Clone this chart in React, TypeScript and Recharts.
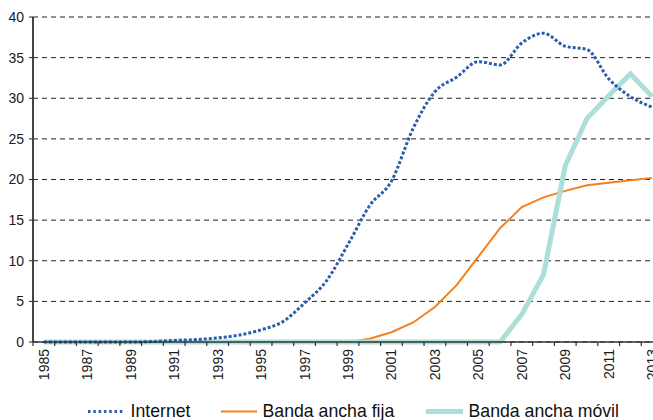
import { LineChart, Line, XAxis, YAxis, CartesianGrid, Legend } from 'recharts';

const years = [
  '1985', '1986', '1987', '1988', '1989', '1990', '1991', '1992', '1993', '1994',
  '1995', '1996', '1997', '1998', '1999', '2000', '2001', '2002', '2003', '2004',
  '2005', '2006', '2007', '2008', '2009', '2010', '2011', '2012', '2013',
];

const internet = [
  0, 0, 0, 0, 0, 0.05, 0.2, 0.3, 0.5, 0.85,
  1.5, 2.5, 4.8, 7.5, 12.0, 16.8, 19.8, 26.3, 30.8, 32.6,
  34.5, 34.1, 36.8, 38.0, 36.4, 36.0, 32.4, 30.2, 28.9,
];

const fija = [
  0, 0, 0, 0, 0, 0, 0, 0, 0, 0,
  0, 0, 0, 0, 0, 0.4, 1.2, 2.4, 4.3, 7.0,
  10.5, 14.0, 16.6, 17.8, 18.6, 19.3, 19.6, 19.9, 20.2,
];

const movil = [
  0, 0, 0, 0, 0, 0, 0, 0, 0, 0,
  0, 0, 0, 0, 0, 0, 0, 0, 0, 0,
  0, 0, 3.4, 8.3, 21.7, 27.5, 30.3, 33.0, 30.2,
];

const yTicks = [0, 5, 10, 15, 20, 25, 30, 35, 40];

const BLUE = '#2B5DAB';
const ORANGE = '#F4811F';
const TEAL = '#ADDFD9';
const FONT = '"Liberation Sans", Arial, Helvetica, sans-serif';

const data = years.map((year, i) => ({
  year,
  internet: internet[i],
  fija: fija[i],
  movil: movil[i],
}));

const STEP = 21.72;

const YearTick = ({ x, y, payload, index }: any) => (
  <g>
    <line x1={x - STEP / 2} x2={x - STEP / 2} y1={y} y2={y + 4} stroke="#333" strokeWidth={1.2} />
    {index % 2 === 0 && (
      <text
        x={x}
        y={y + 7}
        transform={`rotate(-90, ${x}, ${y + 7})`}
        textAnchor="end"
        dy="0.36em"
        fontSize={14}
        fontFamily={FONT}
        fill="#1a1a1a"
      >
        {payload.value}
      </text>
    )}
  </g>
);

const LegendContent = () => (
  <svg width={653} height={19} style={{ display: 'block' }}>
    <line x1={88} x2={125} y1={10.5} y2={10.5} stroke={BLUE} strokeWidth={3} strokeDasharray="2.5 2.8" />
    <text x={130.5} y={16} fontSize={17.7} fontFamily={FONT} fill="#111">Internet</text>
    <line x1={221} x2={257} y1={10.5} y2={10.5} stroke={ORANGE} strokeWidth={2} />
    <text x={262.5} y={16} fontSize={17.7} fontFamily={FONT} fill="#111">Banda ancha fija</text>
    <line x1={426} x2={463} y1={10.5} y2={10.5} stroke={TEAL} strokeWidth={5} />
    <text x={468.5} y={16} fontSize={17.7} fontFamily={FONT} fill="#111">Banda ancha móvil</text>
  </svg>
);

export default function App() {
  return (
    <div
      style={{
        position: 'absolute',
        top: 0,
        left: 0,
        width: 653,
        height: 420,
        overflow: 'hidden',
        background: '#fff',
      }}
    >
      <LineChart
        width={663}
        height={420}
        data={data}
        margin={{ top: 17, right: 0, bottom: 28, left: 0 }}
      >
        <CartesianGrid vertical={false} stroke="#222" strokeDasharray="5 4" />
        <XAxis
          dataKey="year"
          interval={0}
          height={50}
          padding={{ left: STEP / 2, right: STEP / 2 }}
          tickSize={0}
          tickMargin={0}
          tickLine={false}
          axisLine={{ stroke: '#333', strokeWidth: 1.5 }}
          tick={<YearTick />}
        />
        <YAxis
          width={33}
          domain={[0, 40]}
          ticks={yTicks}
          interval={0}
          tickSize={4}
          tickMargin={5}
          axisLine={{ stroke: '#444', strokeWidth: 2 }}
          tickLine={{ stroke: '#222' }}
          tick={{ fontSize: 14, fontFamily: FONT, fill: '#1a1a1a' }}
        />
        <Line
          type="linear"
          dataKey="fija"
          name="Banda ancha fija"
          stroke={ORANGE}
          strokeWidth={2}
          dot={false}
          activeDot={false}
          isAnimationActive={false}
        />
        <Line
          type="linear"
          dataKey="movil"
          name="Banda ancha móvil"
          stroke={TEAL}
          strokeWidth={5}
          dot={false}
          activeDot={false}
          isAnimationActive={false}
        />
        <Line
          type="monotone"
          dataKey="internet"
          name="Internet"
          stroke={BLUE}
          strokeWidth={3}
          strokeDasharray="3 2"
          dot={false}
          activeDot={false}
          isAnimationActive={false}
        />
        <Legend
          verticalAlign="middle"
          align="center"
          content={<LegendContent />}
          wrapperStyle={{ top: 401, left: 0, width: 653, height: 19 }}
        />
      </LineChart>
    </div>
  );
}
